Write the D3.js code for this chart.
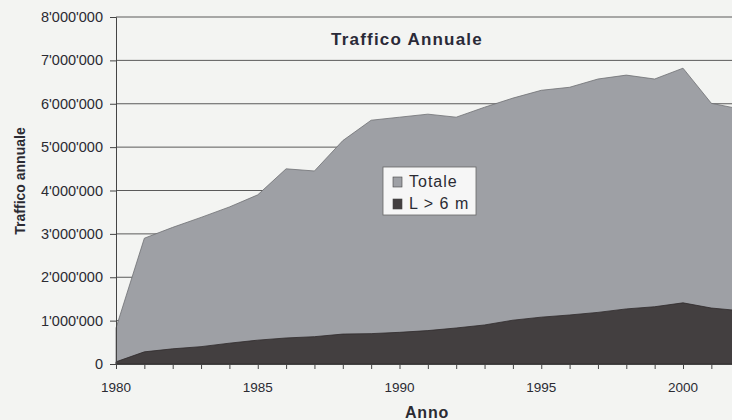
<!DOCTYPE html>
<html lang="it">
<head>
<meta charset="utf-8">
<title>Traffico Annuale</title>
<script src="https://cdn.jsdelivr.net/npm/d3@7"></script>
<style>
  body { margin: 0; background: #f3f4f2; }
  svg { display: block; font-family: "Liberation Sans", Arial, sans-serif; }
</style>
</head>
<body>
<script>
// data
var years  = [1980, 1981, 1982, 1983, 1984, 1985, 1986, 1987, 1988, 1989, 1990,
              1991, 1992, 1993, 1994, 1995, 1996, 1997, 1998, 1999, 2000, 2001, 2002];
var totale = [830000, 2900000, 3150000, 3380000, 3620000, 3900000, 4500000, 4450000,
              5150000, 5620000, 5690000, 5760000, 5690000, 5920000, 6130000, 6310000,
              6380000, 6570000, 6660000, 6570000, 6820000, 6010000, 5880000];
var lunghi = [50000, 280000, 350000, 400000, 480000, 550000, 600000, 630000, 690000,
              700000, 730000, 770000, 830000, 900000, 1010000, 1080000, 1130000,
              1190000, 1270000, 1320000, 1410000, 1290000, 1230000];
var yTicks = [0, 1000000, 2000000, 3000000, 4000000, 5000000, 6000000, 7000000, 8000000];
var xTicks = [1980, 1985, 1990, 1995, 2000];
var seriesNames = ["Totale", "L > 6 m"];

var w = 732, h = 420;
var plotLeft = 116, plotTop = 17, plotBottom = 364;

var svg = d3.select("body").append("svg")
  .attr("width", w).attr("height", h);

var x = d3.scaleLinear().domain([1980, 2002]).range([plotLeft, plotLeft + 22 * 28.35]);
var y = d3.scaleLinear().domain([0, 8000000]).range([plotBottom, plotTop]);

var fmt = function(v) { return d3.format(",")(v).replace(/,/g, "'"); };

// gridlines
svg.append("g").selectAll("line")
  .data(yTicks.slice(1))
  .enter().append("line")
  .attr("x1", plotLeft).attr("x2", w)
  .attr("y1", function(d) { return y(d); })
  .attr("y2", function(d) { return y(d); })
  .attr("stroke", "#5a5a5a").attr("stroke-width", 1);

var data = years.map(function(yr, i) { return { year: yr, tot: totale[i], big: lunghi[i] }; });

var areaTot = d3.area()
  .x(function(d) { return x(d.year); })
  .y0(y(0))
  .y1(function(d) { return y(d.tot); });

var areaBig = d3.area()
  .x(function(d) { return x(d.year); })
  .y0(y(0))
  .y1(function(d) { return y(d.big); });

svg.append("path").datum(data)
  .attr("d", areaTot)
  .attr("fill", "#9ea0a5")
  .attr("stroke", "#6e7074").attr("stroke-width", 0.8);

svg.append("path").datum(data)
  .attr("d", areaBig)
  .attr("fill", "#433f40")
  .attr("stroke", "#2e2a2b").attr("stroke-width", 0.8);

// axes (tick marks from d3, labels drawn separately)
var yAxis = d3.axisLeft(y).tickValues(yTicks).tickFormat("").tickSize(6);
var gy = svg.append("g")
  .attr("transform", "translate(" + plotLeft + ",0)")
  .call(yAxis);
gy.select(".domain").attr("stroke", "#444");
gy.selectAll(".tick line").attr("stroke", "#444");

svg.append("g").selectAll("text")
  .data(yTicks)
  .enter().append("text")
  .attr("x", plotLeft - 13)
  .attr("y", function(d) { return y(d) + 5; })
  .attr("text-anchor", "end")
  .attr("font-size", 14.5)
  .attr("fill", "#2b2b33")
  .text(fmt);

var xAxis = d3.axisBottom(x).ticks(22).tickSize(5).tickFormat("");
var gx = svg.append("g")
  .attr("transform", "translate(0," + plotBottom + ")")
  .call(xAxis);
gx.select(".domain").attr("stroke", "#444");
gx.selectAll(".tick line").attr("stroke", "#444");

svg.append("g").selectAll("text")
  .data(xTicks)
  .enter().append("text")
  .attr("x", function(d) { return x(d); })
  .attr("y", plotBottom + 28)
  .attr("text-anchor", "middle")
  .attr("font-size", 13.5)
  .attr("fill", "#2b2b33")
  .text(function(d) { return d; });

// titles
svg.append("text")
  .attr("x", 407).attr("y", 45)
  .attr("text-anchor", "middle")
  .attr("font-size", 17).attr("font-weight", "bold").attr("fill", "#2a2a38")
  .attr("letter-spacing", 1.2)
  .text("Traffico Annuale");

svg.append("text")
  .attr("x", 427).attr("y", 418)
  .attr("text-anchor", "middle")
  .attr("font-size", 16).attr("font-weight", "bold").attr("fill", "#2b2b33")
  .attr("letter-spacing", 0.8)
  .text("Anno");

svg.append("text")
  .attr("transform", "translate(25,181) rotate(-90)")
  .attr("text-anchor", "middle")
  .attr("font-size", 14).attr("font-weight", "bold").attr("fill", "#2b2b33")
  .text("Traffico annuale");

// legend
var lg = svg.append("g").attr("transform", "translate(383,167)");
lg.append("rect")
  .attr("width", 93).attr("height", 48)
  .attr("fill", "#f6f6f6").attr("stroke", "#666").attr("stroke-width", 0.8);
var cols = ["#9ea0a5", "#433f40"];
seriesNames.forEach(function(n, i) {
  lg.append("rect")
    .attr("x", 10).attr("y", 10 + i * 22).attr("width", 9).attr("height", 10)
    .attr("fill", cols[i]).attr("stroke", "#444").attr("stroke-width", 0.6);
  lg.append("text")
    .attr("x", 26).attr("y", 20 + i * 22)
    .attr("font-size", 16).attr("fill", "#2b2b33")
    .attr("letter-spacing", 1)
    .text(n);
});
</script>
</body>
</html>
